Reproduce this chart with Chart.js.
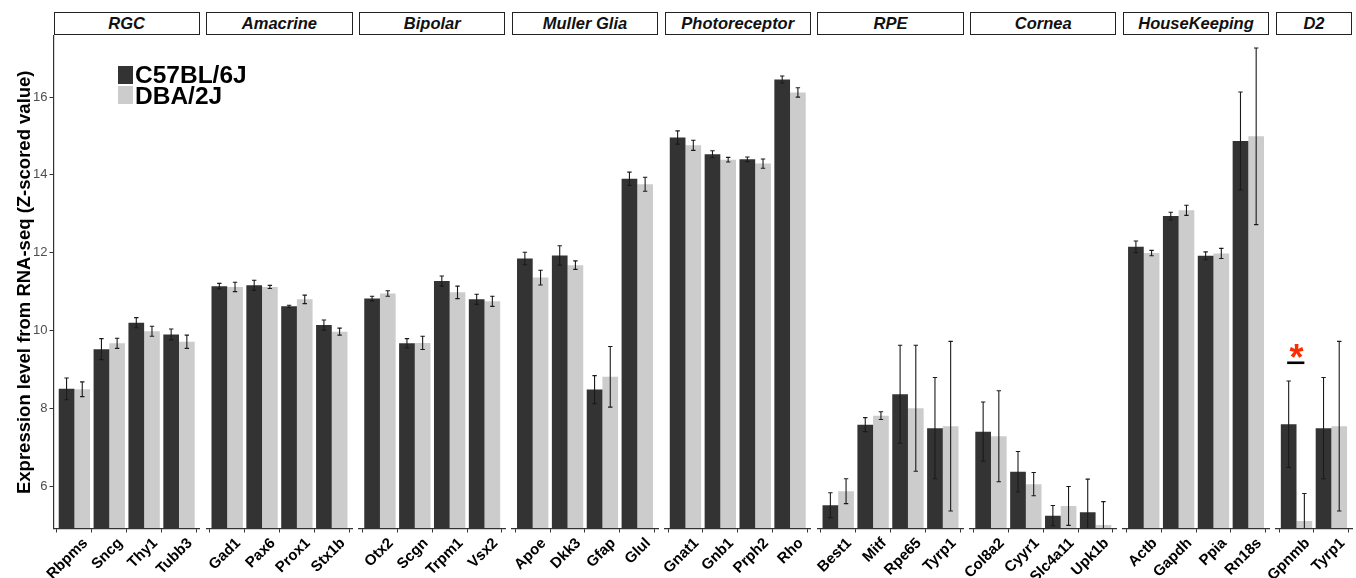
<!DOCTYPE html>
<html>
<head>
<meta charset="utf-8">
<title>Retinal marker expression: C57BL/6J vs DBA/2J</title>
<script src="https://cdn.jsdelivr.net/npm/chart.js@4.4.1/dist/chart.umd.min.js"></script>
<style>
  html, body { margin: 0; padding: 0; background: #fff; }
  #figure { position: relative; width: 1356px; height: 578px; overflow: hidden; background: #fff;
            font-family: "Liberation Sans", Arial, sans-serif; }
  #figure canvas { position: absolute; top: 0; }
  .strip { position: absolute; top: 12px; height: 23px; box-sizing: border-box; border: 1px solid #222;
           background: #fff; display: flex; align-items: center; justify-content: center;
           font: italic bold 16.5px "Liberation Sans", Arial, sans-serif; color: #111; white-space: nowrap; }
  .legend-key { position: absolute; left: 118px; width: 15px; height: 18px; }
  .legend-text { position: absolute; left: 135px; font: bold 24.5px/24px "Liberation Sans", Arial, sans-serif;
                 color: #000; white-space: nowrap; }
</style>
</head>
<body>
<div id="figure"></div>
<script>
// ---- data -------------------------------------------------------------
const cellTypes = ['RGC', 'Amacrine', 'Bipolar', 'Muller Glia', 'Photoreceptor', 'RPE', 'Cornea', 'HouseKeeping', 'D2'];

const genes = [
  'Rbpms', 'Sncg', 'Thy1', 'Tubb3',
  'Gad1', 'Pax6', 'Prox1', 'Stx1b',
  'Otx2', 'Scgn', 'Trpm1', 'Vsx2',
  'Apoe', 'Dkk3', 'Gfap', 'Glul',
  'Gnat1', 'Gnb1', 'Prph2', 'Rho',
  'Best1', 'Mitf', 'Rpe65', 'Tyrp1',
  'Col8a2', 'Cyyr1', 'Slc4a11', 'Upk1b',
  'Actb', 'Gapdh', 'Ppia', 'Rn18s',
  'Gpnmb', 'Tyrp1'
];

const geneCellType = [
  'RGC', 'RGC', 'RGC', 'RGC',
  'Amacrine', 'Amacrine', 'Amacrine', 'Amacrine',
  'Bipolar', 'Bipolar', 'Bipolar', 'Bipolar',
  'Muller Glia', 'Muller Glia', 'Muller Glia', 'Muller Glia',
  'Photoreceptor', 'Photoreceptor', 'Photoreceptor', 'Photoreceptor',
  'RPE', 'RPE', 'RPE', 'RPE',
  'Cornea', 'Cornea', 'Cornea', 'Cornea',
  'HouseKeeping', 'HouseKeeping', 'HouseKeeping', 'HouseKeeping',
  'D2', 'D2'
];

const b6Mean = [
  8.50, 9.52, 10.20, 9.90,
  11.14, 11.16, 10.62, 10.14,
  10.82, 9.67, 11.27, 10.80,
  11.85, 11.93, 8.48, 13.90,
  14.96, 14.53, 14.40, 16.45,
  5.51, 7.58, 8.36, 7.49,
  7.40, 6.37, 5.24, 5.33,
  12.15, 12.94, 11.92, 14.87,
  7.59, 7.49
];
const b6Err = [
  0.28, 0.27, 0.13, 0.14,
  0.07, 0.13, 0.03, 0.13,
  0.06, 0.12, 0.13, 0.13,
  0.16, 0.25, 0.36, 0.17,
  0.17, 0.09, 0.06, 0.09,
  0.32, 0.18, 1.26, 1.30,
  0.76, 0.52, 0.26, 0.85,
  0.15, 0.10, 0.10, 1.26,
  1.11, 1.30
];

const d2Mean = [
  8.49, 9.67, 9.98, 9.71,
  11.12, 11.12, 10.80, 9.97,
  10.95, 9.68, 10.98, 10.75,
  11.36, 11.68, 8.81, 13.76,
  14.76, 14.39, 14.29, 16.12,
  5.87, 7.81, 8.00, 7.54,
  7.28, 6.05, 5.49, 5.00,
  11.99, 13.09, 11.98, 14.99,
  5.10, 7.54
];
const d2Err = [
  0.19, 0.13, 0.13, 0.17,
  0.12, 0.04, 0.11, 0.09,
  0.07, 0.17, 0.16, 0.13,
  0.19, 0.11, 0.78, 0.18,
  0.13, 0.06, 0.12, 0.12,
  0.32, 0.10, 1.62, 2.18,
  1.17, 0.30, 0.50, 0.60,
  0.07, 0.13, 0.13, 2.27,
  0.71, 2.18
];

const strains = ['C57BL/6J', 'DBA/2J'];
const yTicks = [6, 8, 10, 12, 14, 16];
const yMin = 4.91;
const yMax = 17.57;

// significance bracket between the two strains
const sigCellType = 'D2';
const sigGene = 'Gpnmb';
const sigLevel = 9.17;
const sigLabel = '*';

// ---- styling / layout --------------------------------------------------
const strainColors = ['#333333', '#cccccc'];
const FONT = '"Liberation Sans", Arial, sans-serif';
const FIG_H = 578;
const PLOT_TOP = 36;
const PLOT_BOTTOM = 528.5;
const FIRST_LEFT = 53.5;
const SLOT = 34.86;      // width of one gene slot, px
const EXPAND = 0.6;      // discrete-axis padding, in slots
const GAP = 6.35;        // gap between facets, px
const AXIS_COLOR = '#333333';

Chart.defaults.font.family = FONT;
Chart.defaults.devicePixelRatio = 1;

const fig = document.getElementById('figure');

// error bars drawn from each bar's own mean +/- error, through the y scale
const errorBarPlugin = {
  id: 'errorBars',
  afterDatasetsDraw(chart) {
    const { ctx, chartArea: a } = chart;
    const ys = chart.scales.y;
    ctx.save();
    ctx.beginPath();
    ctx.rect(a.left, a.top, a.right - a.left, a.bottom - a.top);
    ctx.clip();
    ctx.strokeStyle = '#1a1a1a';
    ctx.lineWidth = 1.1;
    chart.data.datasets.forEach((ds, di) => {
      const meta = chart.getDatasetMeta(di);
      meta.data.forEach((bar, i) => {
        const v = ds.data[i].y;
        const e = ds.errors[i];
        const x = bar.x;
        const yt = ys.getPixelForValue(v + e);
        const yb = ys.getPixelForValue(v - e);
        const cap = 2.2;
        ctx.beginPath();
        ctx.moveTo(x, yt); ctx.lineTo(x, yb);
        ctx.moveTo(x - cap, yt); ctx.lineTo(x + cap, yt);
        ctx.moveTo(x - cap, yb); ctx.lineTo(x + cap, yb);
        ctx.stroke();
      });
    });
    ctx.restore();
  }
};

// bracket + asterisk over a pair of bars
function significancePlugin(geneIndex) {
  return {
    id: 'significance',
    afterDatasetsDraw(chart) {
      const { ctx } = chart;
      const ys = chart.scales.y;
      const b0 = chart.getDatasetMeta(0).data[geneIndex];
      const b1 = chart.getDatasetMeta(1).data[geneIndex];
      const y = ys.getPixelForValue(sigLevel);
      ctx.save();
      ctx.strokeStyle = '#000';
      ctx.lineWidth = 2.6;
      ctx.beginPath();
      ctx.moveTo(b0.x - 1.5, y);
      ctx.lineTo(b1.x, y);
      ctx.stroke();
      ctx.fillStyle = '#ff2a00';
      ctx.font = 'bold 36px ' + FONT;
      ctx.textAlign = 'center';
      ctx.textBaseline = 'alphabetic';
      ctx.fillText(sigLabel, (b0.x + b1.x) / 2, y + 7.5);
      ctx.restore();
    }
  };
}

function buildPanel(type, panelIndex, left) {
  const idx = [];
  geneCellType.forEach((t, i) => { if (t === type) idx.push(i); });
  const labels = idx.map(i => genes[i]);
  const n = labels.length;
  const width = (n - 1 + 2 * EXPAND) * SLOT;
  const first = panelIndex === 0;

  const canvasLeft = first ? 0 : Math.floor(left) - 48;
  const canvasWidth = Math.ceil(left + width + 14 - canvasLeft);
  const padLeft = first ? 0 : left - canvasLeft;
  const padRight = canvasLeft + canvasWidth - (left + width);

  const canvas = document.createElement('canvas');
  canvas.width = canvasWidth;
  canvas.height = FIG_H;
  canvas.style.left = canvasLeft + 'px';
  canvas.style.width = canvasWidth + 'px';
  canvas.style.height = FIG_H + 'px';
  fig.appendChild(canvas);

  const datasets = strains.map((s, k) => ({
    label: s,
    data: idx.map((gi, j) => ({ x: j, y: (k === 0 ? b6Mean : d2Mean)[gi] })),
    errors: idx.map(gi => (k === 0 ? b6Err : d2Err)[gi]),
    backgroundColor: strainColors[k],
    borderWidth: 0,
    categoryPercentage: 0.9,
    barPercentage: 1.0
  }));

  const plugins = [errorBarPlugin];
  if (type === sigCellType) plugins.push(significancePlugin(labels.indexOf(sigGene)));

  new Chart(canvas, {
    type: 'bar',
    data: { datasets },
    plugins,
    options: {
      responsive: false,
      animation: false,
      events: [],
      layout: { padding: { left: padLeft, right: padRight, top: PLOT_TOP, bottom: 0 } },
      plugins: { legend: { display: false }, tooltip: { enabled: false }, title: { display: false } },
      scales: {
        x: {
          type: 'linear',
          min: -EXPAND,
          max: n - 1 + EXPAND,
          offset: false,
          afterBuildTicks: s => { s.ticks = labels.map((_, i) => ({ value: i })); },
          afterFit: s => { s.height = FIG_H - PLOT_BOTTOM; },
          grid: { display: true, drawOnChartArea: false, drawTicks: true, tickLength: 4,
                  tickColor: AXIS_COLOR, tickWidth: 1 },
          border: { display: true, color: AXIS_COLOR, width: 1.2, z: 1 },
          ticks: {
            autoSkip: false, minRotation: 45, maxRotation: 45, padding: 2, labelOffset: 11,
            color: '#000', font: { size: 15, weight: 'bold' },
            callback: v => labels[Math.round(v)]
          }
        },
        y: {
          display: first,
          min: yMin,
          max: yMax,
          afterBuildTicks: s => { s.ticks = yTicks.map(v => ({ value: v })); },
          afterFit: s => { s.width = first ? FIRST_LEFT : 0; },
          grid: { display: true, drawOnChartArea: false, drawTicks: true, tickLength: 4,
                  tickColor: AXIS_COLOR, tickWidth: 1 },
          border: { display: true, color: AXIS_COLOR, width: 1.2, z: 1 },
          ticks: { color: '#4d4d4d', font: { size: 13 }, padding: 2 },
          title: {
            display: true,
            text: 'Expression level from RNA-seq (Z-scored value)',
            color: '#000',
            font: { size: 18.5, weight: 'bold' },
            padding: { top: 14, bottom: 0 }
          }
        }
      }
    }
  });

  const strip = document.createElement('div');
  strip.className = 'strip';
  strip.style.left = left + 'px';
  strip.style.width = width + 'px';
  strip.textContent = type;
  fig.appendChild(strip);

  return width;
}

let left = FIRST_LEFT;
cellTypes.forEach((t, i) => {
  const w = buildPanel(t, i, left);
  left += w + GAP;
});

// legend
strains.forEach((s, k) => {
  const key = document.createElement('div');
  key.className = 'legend-key';
  key.style.top = (65.5 + k * 20.5) + 'px';
  key.style.background = strainColors[k];
  fig.appendChild(key);
  const txt = document.createElement('div');
  txt.className = 'legend-text';
  txt.style.top = (63 + k * 20.7) + 'px';
  txt.textContent = s;
  fig.appendChild(txt);
});
</script>
</body>
</html>
